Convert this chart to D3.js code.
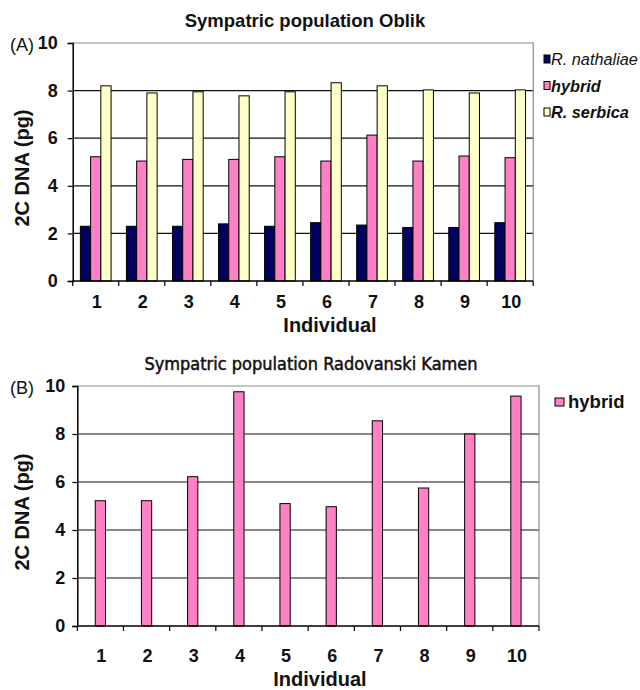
<!DOCTYPE html>
<html>
<head>
<meta http-equiv="content-type" content="text/html; charset=UTF8">
<script src="https://cdn.jsdelivr.net/npm/d3@7/dist/d3.min.js"></script>
<style>
body { margin: 0; background: #fff; }
svg { display: block; font-family: "Liberation Sans", Arial, sans-serif; }
</style>
</head>
<body>
<svg class="chart" width="640" height="690"></svg>
</body>
<script>
var individuals = ["1", "2", "3", "4", "5", "6", "7", "8", "9", "10"];
var yTicks = [0, 2, 4, 6, 8, 10];

// panel A - Oblik
var seriesA = ["R. nathaliae", "hybrid", "R. serbica"];
var nathaliaeA = [2.3, 2.3, 2.3, 2.4, 2.3, 2.45, 2.35, 2.25, 2.25, 2.45];
var hybridA = [5.22, 5.04, 5.11, 5.11, 5.22, 5.04, 6.13, 5.04, 5.25, 5.18];
var serbicaA = [8.2, 7.9, 7.95, 7.78, 7.95, 8.33, 8.2, 8.03, 7.9, 8.03];

// panel B - Radovanski Kamen
var seriesB = ["hybrid"];
var hybridB = [5.22, 5.22, 6.22, 9.76, 5.1, 4.97, 8.55, 5.75, 8.0, 9.58];

var colors = {"R. nathaliae": "#000060", "hybrid": "#ff80c4", "R. serbica": "#ffffc8"};

var svg = d3.select(".chart");

function drawPanel(p) {
	var g = svg.append("g").attr("transform", "translate(" + p.left + "," + p.top + ")");

	var x = d3.scaleBand().domain(individuals).range([0, p.width]);
	var y = d3.scaleLinear().domain([0, 10]).range([p.height, 0]);

	// grid lines
	g.selectAll(".grid")
		.data(yTicks.filter(function(d) { return d > 0 && d < 10; }))
		.enter().append("line")
		.attr("x1", 0).attr("x2", p.width)
		.attr("y1", function(d) { return y(d); })
		.attr("y2", function(d) { return y(d); })
		.attr("stroke", "#111").attr("stroke-width", 1.2);

	// plot border top/right
	g.append("path")
		.attr("d", "M0," + y(10) + "H" + p.width + "V" + y(0))
		.attr("fill", "none").attr("stroke", "#8a8a8a").attr("stroke-width", 1.2);

	// bars, excel style: gap of 1.5 bar widths between groups
	var barW = x.step() / 4.5;
	var groups = g.selectAll(".grp")
		.data(individuals)
		.enter().append("g")
		.attr("transform", function(d) {
			return "translate(" + (x(d) + (x.bandwidth() - barW * p.series.length) / 2) + ",0)";
		});

	groups.selectAll("rect")
		.data(function(d, i) {
			return p.series.map(function(s, j) { return {name: s, j: j, v: p.values[j][i]}; });
		})
		.enter().append("rect")
		.attr("x", function(d) { return d.j * barW; })
		.attr("y", function(d) { return y(d.v); })
		.attr("width", barW)
		.attr("height", function(d) { return y(0) - y(d.v); })
		.attr("fill", function(d) { return colors[d.name]; })
		.attr("stroke", "#000").attr("stroke-width", 1);

	// y axis
	var yAxis = g.append("g")
		.call(d3.axisLeft(y).tickValues(yTicks).tickSize(5).tickPadding(p.yPad).tickFormat(d3.format("d")));
	yAxis.select(".domain").attr("stroke", "#000").attr("stroke-width", 1.5);
	yAxis.selectAll(".tick line").attr("stroke", "#000").attr("stroke-width", 1.2);
	yAxis.selectAll("text").attr("font-size", 18).attr("font-weight", "bold").attr("fill", "#111");

	// x axis: ticks at category boundaries
	var xg = g.append("g").attr("transform", "translate(0," + p.height + ")");
	xg.append("line").attr("x1", 0).attr("x2", p.width)
		.attr("stroke", "#000").attr("stroke-width", 1.5);
	xg.selectAll(".xt")
		.data(individuals.concat(["end"]))
		.enter().append("line")
		.attr("x1", function(d, i) { return i * x.step(); })
		.attr("x2", function(d, i) { return i * x.step(); })
		.attr("y1", 0).attr("y2", 5)
		.attr("stroke", "#000").attr("stroke-width", 1.2);
	xg.selectAll(".xl")
		.data(individuals)
		.enter().append("text")
		.attr("x", function(d) { return x(d) + x.bandwidth() / 2 + 1; })
		.attr("y", p.xLabelY)
		.attr("text-anchor", "middle")
		.attr("font-size", 18).attr("font-weight", "bold").attr("fill", "#111")
		.text(function(d) { return d; });

	// axis titles
	xg.append("text")
		.attr("x", p.indX - p.left).attr("y", p.xLabelY + 24)
		.attr("text-anchor", "middle")
		.attr("font-size", 20).attr("font-weight", "bold").attr("fill", "#111")
		.text("Individual");
	g.append("text")
		.attr("transform", "translate(" + (-p.left + 29) + "," + (p.yTitleY - p.top) + ") rotate(-90)")
		.attr("text-anchor", "middle")
		.attr("font-size", 20).attr("font-weight", "bold").attr("fill", "#111")
		.text("2C DNA (pg)");

	// panel letter
	g.append("text")
		.attr("x", -p.left + 10).attr("y", 8)
		.attr("font-size", 18).attr("fill", "#111")
		.text(p.letter);

	// title
	g.append("text")
		.attr("x", p.titleX - p.left).attr("y", -16)
		.attr("text-anchor", "middle")
		.attr("font-family", p.titleFont)
		.attr("font-size", p.titleSize).attr("font-weight", p.titleWeight).attr("fill", "#111")
		.attr("stroke", "#111").attr("stroke-width", p.titleStroke)
		.text(p.title);

	// legend
	var lg = svg.append("g").attr("transform", "translate(" + p.legendX + "," + p.legendY + ")");
	var items = lg.selectAll("g")
		.data(p.series)
		.enter().append("g")
		.attr("transform", function(d, i) { return "translate(0," + i * 26.5 + ")"; });
	items.append("rect")
		.attr("x", 0).attr("y", -4).attr("width", p.boxW).attr("height", 8)
		.attr("fill", function(d) { return colors[d]; })
		.attr("stroke", "#000").attr("stroke-width", 1);
	items.append("text")
		.attr("x", p.legendGap).attr("y", 6)
		.attr("font-size", p.legendSize).attr("fill", "#111")
		.attr("font-style", p.legendItalic ? "italic" : "normal")
		.attr("font-weight", function(d) { return d === "R. nathaliae" ? "normal" : "bold"; })
		.text(function(d) { return d; });
}

drawPanel({
	left: 72.7, top: 43, width: 460.5, height: 238,
	series: seriesA, values: [nathaliaeA, hybridA, serbicaA],
	yPad: 10, xLabelY: 27, indX: 330, yTitleY: 168,
	letter: "(A)", title: "Sympatric population Oblik", titleX: 305,
	titleFont: "Liberation Sans", titleSize: 18.5, titleWeight: "bold", titleStroke: 0,
	legendX: 544, legendY: 59, legendGap: 7, boxW: 6, legendSize: 16.3, legendItalic: true
});

drawPanel({
	left: 77.3, top: 386, width: 461.7, height: 240,
	series: seriesB, values: [hybridB],
	yPad: 7, xLabelY: 36, indX: 320, yTitleY: 512,
	letter: "(B)", title: "Sympatric population Radovanski Kamen", titleX: 311,
	titleFont: "DejaVu Sans Condensed", titleSize: 18, titleWeight: "normal", titleStroke: 0.5,
	legendX: 555, legendY: 402, legendGap: 13, boxW: 9, legendSize: 18.5, legendItalic: false
});
</script>
</html>
